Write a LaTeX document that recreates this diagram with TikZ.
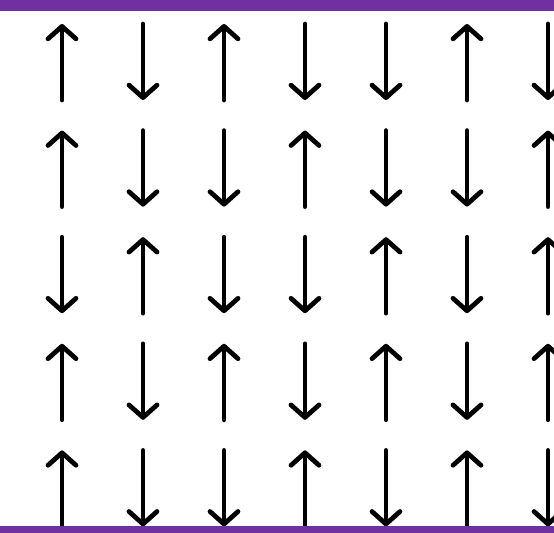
\documentclass[tikz,border=0pt]{standalone}
\definecolor{barpurple}{RGB}{112,48,160}
\usetikzlibrary{arrows.meta}
\begin{document}
\begin{tikzpicture}[x=0.02cm,y=-0.02cm,
    spin/.style={line width=0.095cm,line cap=round,-{Straight Barb[length=0.25cm,width=0.56cm,round]}},
    bar/.style={fill=barpurple,draw=none}]
    \clip (0,0) rectangle (554,533);
    \fill[white] (0,0) rectangle (554,533);
    % one list of directions per row, 1 = up, 0 = down
    \foreach \dirs [count=\r] in {{1,0,1,0,0,1,0},{1,0,0,1,0,0,1},{0,1,0,0,1,0,1},{1,0,1,0,1,0,1},{1,0,0,1,0,1,0}}{
      \foreach \d [count=\c] in \dirs{
        \coordinate (top-\r-\c) at ({62+81*(\c-1)},{62+106.6*(\r-1)-38});
        \coordinate (bot-\r-\c) at ({62+81*(\c-1)},{62+106.6*(\r-1)+38});
        \ifnum\d=1 \draw[spin] (bot-\r-\c) -- (top-\r-\c);
        \else \draw[spin] (top-\r-\c) -- (bot-\r-\c); \fi
      }
    }
    \fill[bar] (0,0) rectangle (554,11);
    \fill[bar] (0,526) rectangle (554,533);
  \end{tikzpicture}
\end{document}
